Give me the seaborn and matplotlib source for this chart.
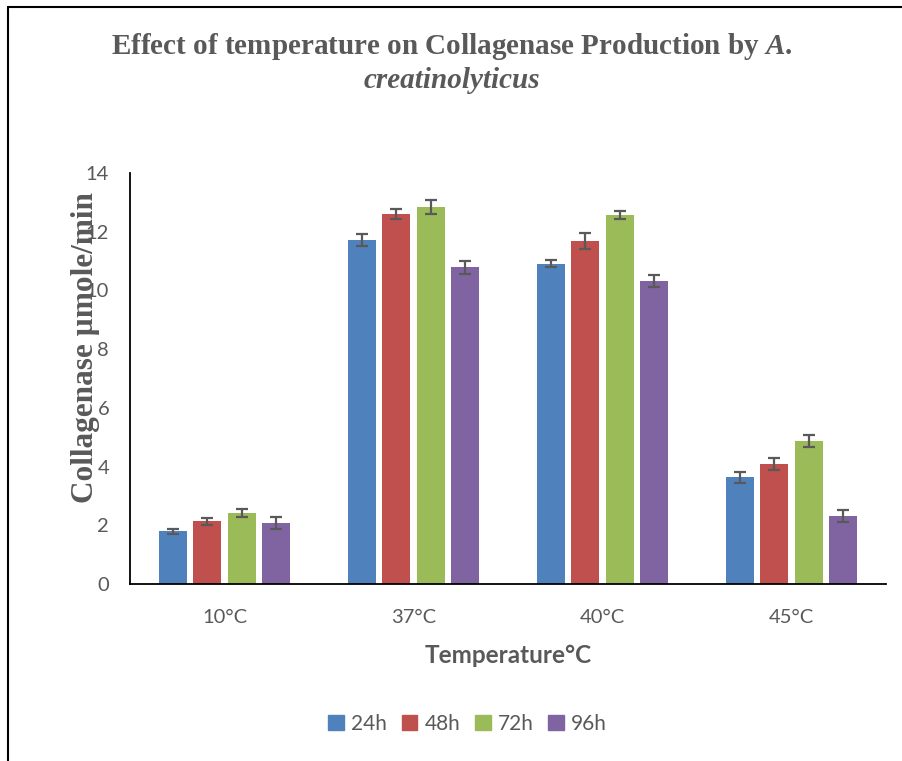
import matplotlib
matplotlib.use("Agg")
import matplotlib.pyplot as plt
import matplotlib.lines as mlines
import seaborn as sns
import pandas as pd
import numpy as np

temps = ["10°C", "37°C", "40°C", "45°C"]
hours = ["24h", "48h", "72h", "96h"]
vals_24h = [1.80, 11.72, 10.91, 3.63]
vals_48h = [2.13, 12.59, 11.68, 4.09]
vals_72h = [2.42, 12.84, 12.56, 4.87]
vals_96h = [2.09, 10.79, 10.32, 2.32]
err_24h = [0.08, 0.21, 0.12, 0.19]
err_48h = [0.13, 0.17, 0.27, 0.21]
err_72h = [0.15, 0.24, 0.13, 0.21]
err_96h = [0.20, 0.22, 0.20, 0.21]
colors = ["#4F81BD", "#C0504D", "#9BBB59", "#8064A2"]

rows = []
for h, v, e in zip(hours, [vals_24h, vals_48h, vals_72h, vals_96h],
                   [err_24h, err_48h, err_72h, err_96h]):
    for t, vi, ei in zip(temps, v, e):
        rows.append({"Temperature": t, "Time": h, "Value": vi, "Err": ei})
df = pd.DataFrame(rows)

sns.set_theme(style="white")
plt.rcParams["font.family"] = ["Lato", "DejaVu Sans"]
plt.rcParams["mathtext.fontset"] = "custom"
plt.rcParams["mathtext.it"] = "Liberation Serif:italic:bold"
plt.rcParams["mathtext.rm"] = "Liberation Serif:bold"
plt.rcParams["mathtext.bf"] = "Liberation Serif:bold"

fig = plt.figure(figsize=(9.03, 7.61), dpi=100)
ax = fig.add_axes([130/903, 1-584/761, (886-130)/903, (584-173)/761])

sns.barplot(data=df, x="Temperature", y="Value", hue="Time", order=temps,
            hue_order=hours, palette=colors, width=0.73, gap=0.2,
            errorbar=None, ax=ax, saturation=1, linewidth=0)

# error bars from bar patches
bars = [p for p in ax.patches if p.get_height() > 0]
for p in bars:
    cx = p.get_x() + p.get_width()/2
    h = p.get_height()
    m = df[np.isclose(df["Value"], h)]
    e = m["Err"].iloc[0]
    ax.errorbar(cx, h, yerr=e, color="#595959", capsize=4.5, capthick=1.6,
                elinewidth=1.6, fmt="none")

ax.set_ylim(0, 14)
ax.set_xlim(-0.5, 3.5)
ax.set_yticks(range(0, 15, 2))
ax.tick_params(axis="both", length=0, labelsize=14.5, labelcolor="#595959")
ax.tick_params(axis="y", pad=15)
ax.tick_params(axis="x", pad=18)
for s in ["top", "right"]:
    ax.spines[s].set_visible(False)
for s in ["left", "bottom"]:
    ax.spines[s].set_color("black")
    ax.spines[s].set_linewidth(1.3)

ax.set_xlabel("Temperature°C", fontsize=17.5, fontweight="bold", color="#595959", labelpad=13)
ax.set_ylabel("")
fig.text(86/903, 1-347/761, "Collagenase µmole/min", rotation=90, ha="center", va="center",
         fontsize=22.5, fontweight="bold", color="#595959", family="Liberation Serif")

ax.legend_.remove()
handles = [plt.Rectangle((0, 0), 1, 1, color=c) for c in colors]
fig.legend(handles, hours, loc="center", bbox_to_anchor=(0.518, 1-724/761), ncol=4,
           frameon=False, fontsize=15, handlelength=0.75, handleheight=0.75,
           columnspacing=0.7, handletextpad=0.35, labelcolor="#595959")

fig.text(0.5, 1-46/761, "Effect of temperature on Collagenase Production by $\\mathit{A.}$",
         ha="center", va="center", fontsize=21, fontweight="bold", color="#595959",
         family="Liberation Serif")
fig.text(0.5, 1-80/761, "creatinolyticus", ha="center", va="center", fontsize=21,
         fontweight="bold", fontstyle="italic", color="#595959", family="Liberation Serif")

# outer frame lines (top and left)
fig.add_artist(mlines.Line2D([8/903, 1], [1-7/761, 1-7/761], color="black", lw=1.5))
fig.add_artist(mlines.Line2D([8/903, 8/903], [0, 1-7/761], color="black", lw=1.5))

fig.savefig("out.png", dpi=100)
